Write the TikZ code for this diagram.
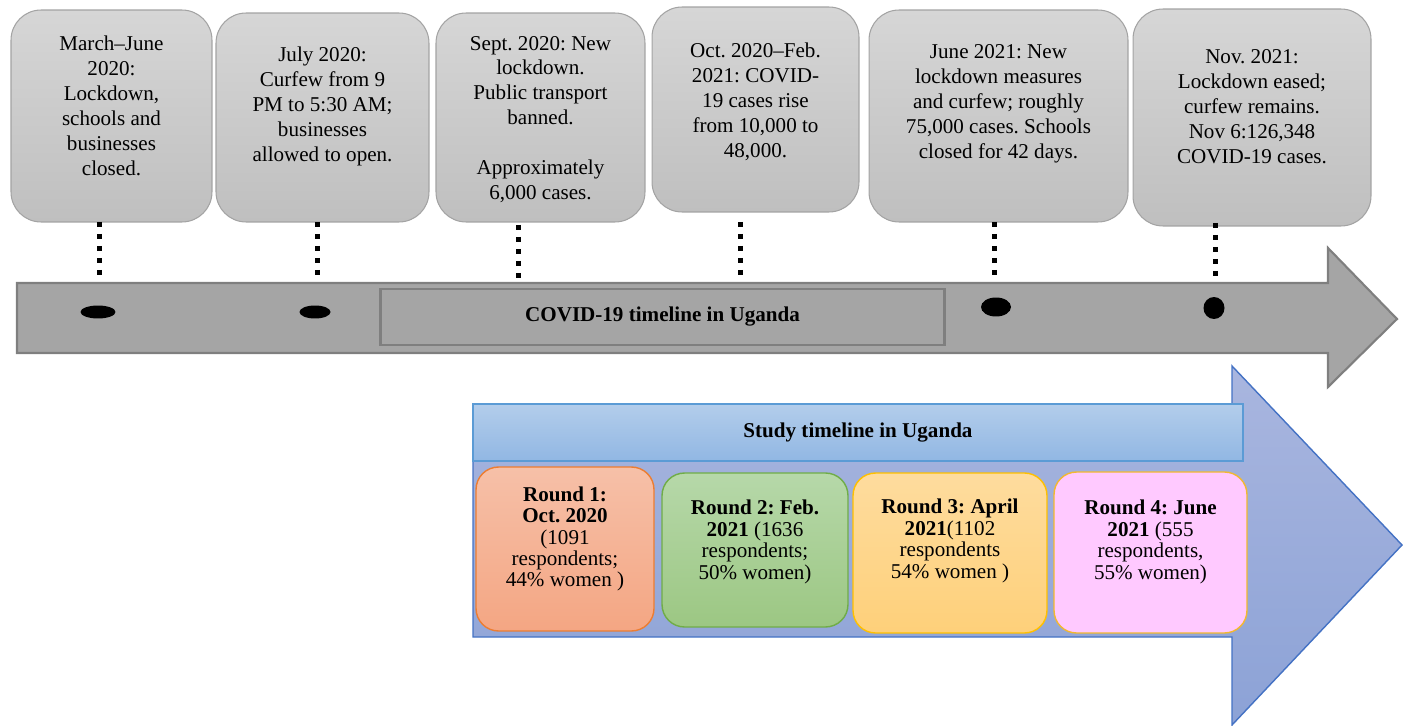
\documentclass[tikz,border=0pt]{standalone}
\usepackage{fontspec}
\setmainfont{Liberation Serif}
\usepackage{tikz}
\usetikzlibrary{shapes.geometric,positioning}
\frenchspacing
\definecolor{evtop}{HTML}{D6D6D6}
\definecolor{evbot}{HTML}{BFBFBF}
\definecolor{evline}{HTML}{A3A3A3}
\definecolor{barfill}{HTML}{A5A5A5}
\definecolor{barline}{HTML}{7F7F7F}
\definecolor{stdtop}{HTML}{A9B6DF}
\definecolor{stdbot}{HTML}{8CA2D6}
\definecolor{stdline}{HTML}{4472C4}
\definecolor{hdtop}{HTML}{B3CDEB}
\definecolor{hdbot}{HTML}{91B7E3}
\definecolor{hdline}{HTML}{5B9BD5}
\definecolor{rAtop}{HTML}{F6C0A8}
\definecolor{rAbot}{HTML}{F4A683}
\definecolor{rAline}{HTML}{ED7D31}
\definecolor{rBtop}{HTML}{B6D8A9}
\definecolor{rBbot}{HTML}{9CC783}
\definecolor{rBline}{HTML}{70AD47}
\definecolor{rCtop}{HTML}{FEDC9E}
\definecolor{rCbot}{HTML}{FED07A}
\definecolor{rCline}{HTML}{FFC000}
\definecolor{rDfill}{HTML}{FFC9FF}
\definecolor{rDline}{HTML}{F2B830}

\begin{document}
\begin{tikzpicture}
	[x=0.02cm,y=-0.02cm,every node/.style={inner sep=0pt},
	event/.style={draw=evline,line width=0.6pt,rounded corners=0.6cm,
		top color=evtop,bottom color=evbot},
	evtext/.style={align=center,font=\fontsize{12}{14.2}\selectfont},
	roundbox/.style={line width=0.8pt,rounded corners=0.45cm},
	rtext/.style={align=center,font=\fontsize{12}{12.2}\selectfont},
	bartitle/.style={font=\fontsize{12}{14}\selectfont\bfseries},
	dotline/.style={-,line width=0.1cm,dash pattern=on 0.1cm off 0.14cm},
	blob/.style={shape=ellipse,fill=black,inner sep=0pt}]
	\useasboundingbox (0,0) rectangle (1403,726);
	% study arrow
	\draw[draw=stdline,line width=0.8pt,top color=stdtop,bottom color=stdbot]
		(473,404) -- (1232,404) -- (1232,366) -- (1402,545) -- (1232,725)
		-- (1232,637) -- (473,637) -- cycle;
	\node[draw=hdline,line width=1.2pt,top color=hdtop,bottom color=hdbot,
		minimum width=15.4cm,minimum height=1.14cm,bartitle] (study) at (858,432.5)
		{Study timeline in Uganda};
	\node[roundbox,draw=rAline,top color=rAtop,bottom color=rAbot,
		minimum width=3.56cm,minimum height=3.28cm,
		label={[rtext,yshift=0.2cm]center:{\textbf{Round 1:}\\\textbf{Oct. 2020}\\(1091\\respondents;\\44\% women )}}]
		(r1) at (565,549) {};
	\node[roundbox,draw=rBline,top color=rBtop,bottom color=rBbot,
		minimum width=3.72cm,minimum height=3.08cm,
		label={[rtext,yshift=0.16cm]center:{\textbf{Round 2: Feb.}\\\textbf{2021} (1636\\respondents;\\50\% women)}}]
		(r2) at (755,550) {};
	\node[roundbox,draw=rCline,top color=rCtop,bottom color=rCbot,
		minimum width=3.88cm,minimum height=3.2cm,
		label={[rtext,yshift=0.24cm]center:{\textbf{Round 3: April}\\\textbf{2021}(1102\\respondents\\54\% women )}}]
		(r3) at (950,553) {};
	\node[roundbox,draw=rDline,fill=rDfill,
		minimum width=3.86cm,minimum height=3.22cm,
		label={[rtext,yshift=0.21cm]center:{\textbf{Round 4: June}\\\textbf{2021} (555\\respondents,\\55\% women)}}]
		(r4) at (1150.5,552.5) {};
	% covid arrow
	\draw[draw=barline,line width=1.2pt,fill=barfill]
		(17,283) -- (1328,283) -- (1328,248) -- (1397,319) -- (1328,387)
		-- (1328,353) -- (17,353) -- cycle;
	\node[draw=barline,line width=1.7pt,fill=barfill,minimum width=11.3cm,
		minimum height=1.12cm,bartitle] (covid) at (662.5,317)
		{COVID-19 timeline in Uganda};
	\node[blob,minimum width=0.7cm,minimum height=0.26cm] (dot1) at (98,312) {};
	\node[blob,minimum width=0.62cm,minimum height=0.26cm] (dot2) at (315,312) {};
	\node[blob,minimum width=0.6cm,minimum height=0.38cm] (dot3) at (996,307) {};
	\node[blob,minimum width=0.42cm,minimum height=0.44cm] (dot4) at (1214,308) {};
	% events
	\node[event,minimum width=4.02cm,minimum height=4.24cm,
		label={[evtext,yshift=0.2cm]center:{March--June\\2020:\\Lockdown,\\schools and\\businesses\\closed.}}]
		(ev1) at (111.5,116) {};
	\node[event,minimum width=4.26cm,minimum height=4.18cm,
		label={[evtext,yshift=0.22cm]center:{July 2020:\\Curfew from 9\\PM to 5:30 AM;\\businesses\\allowed to open.}}]
		(ev2) at (322.5,117.5) {};
	\node[event,minimum width=4.18cm,minimum height=4.18cm,
		label={[evtext,yshift=-0.04cm]center:{Sept. 2020: New\\lockdown.\\Public transport\\banned.\\[14.2pt]Approximately\\6,000 cases.}}]
		(ev3) at (540.5,117.5) {};
	\node[event,minimum width=4.14cm,minimum height=4.1cm,
		label={[evtext,yshift=0.15cm]center:{Oct. 2020--Feb.\\2021: COVID-\\19 cases rise\\from 10,000 to\\48,000.}}]
		(ev4) at (755.5,109.5) {};
	\node[event,minimum width=5.18cm,minimum height=4.24cm,
		label={[evtext,yshift=0.24cm]center:{June 2021: New\\lockdown measures\\and curfew; roughly\\75,000 cases. Schools\\closed for 42 days.}}]
		(ev5) at (998.5,116) {};
	\node[event,minimum width=4.76cm,minimum height=4.34cm,
		label={[evtext,yshift=0.22cm]center:{Nov. 2021:\\Lockdown eased;\\curfew remains.\\Nov 6:126,348\\COVID-19 cases.}}]
		(ev6) at (1252,117.5) {};
	\coordinate (t1) at (99,222);   \coordinate (b1) at (99,276);
	\coordinate (t2) at (317,222);  \coordinate (b2) at (317,276);
	\coordinate (t3) at (518,225);  \coordinate (b3) at (518,279);
	\coordinate (t4) at (740,222);  \coordinate (b4) at (740,276);
	\coordinate (t5) at (994,222);  \coordinate (b5) at (994,276);
	\coordinate (t6) at (1215,223); \coordinate (b6) at (1215,277);
	\path
	\foreach \startNode/\endNode in {t1/b1,t2/b2,t3/b3,t4/b4,t5/b5,t6/b6}
	{
		(\startNode) edge[dotline] (\endNode)
	};
\end{tikzpicture}
\end{document}
